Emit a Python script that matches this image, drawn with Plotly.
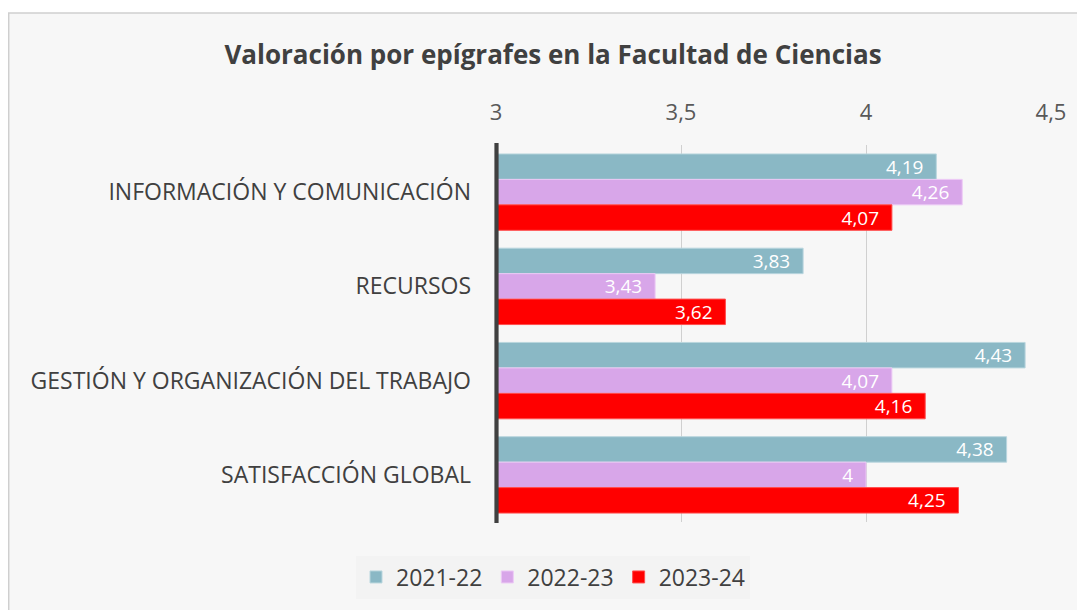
import plotly.graph_objects as go

categories = ["INFORMACIÓN Y COMUNICACIÓN", "RECURSOS",
              "GESTIÓN Y ORGANIZACIÓN DEL TRABAJO", "SATISFACCIÓN GLOBAL"]
series_names = ["2021-22", "2022-23", "2023-24"]
v2122 = [4.19, 3.83, 4.43, 4.38]
v2223 = [4.26, 3.43, 4.07, 4.00]
v2324 = [4.07, 3.62, 4.16, 4.25]
tick_vals = [3, 3.5, 4, 4.5]

colors = ["#8ab8c5", "#d8a6e9", "#ff0000"]
line_colors = ["#b9d6de", "#ecc9f5", "#ff4d4d"]

def fmt(v):
    return f"{v:g}".replace(".", ",") + "\u00a0\u00a0"

fig = go.Figure()
for name, vals, c, lc in zip(series_names, [v2122, v2223, v2324], colors, line_colors):
    fig.add_trace(go.Bar(
        y=categories, x=vals, name=name, orientation="h",
        marker=dict(color=c, line=dict(color=lc, width=1)),
        text=[fmt(v) for v in vals], textposition="inside",
        insidetextanchor="end", textangle=0,
        textfont=dict(color="white", size=19, family="Open Sans"),
        constraintext="none",
    ))

# page has an 8px body margin; work in page pixels and convert
OFF = 8
W, H = 1077, 602
L = 496 - OFF
T = 145 - OFF
R = W - (1051 - OFF)
B = H - (522 - OFF)
pw, ph = W - L - R, H - T - B
def px2x(px): return (px - OFF - L) / pw
def py2y(py): return (H - B - (py - OFF)) / ph

fig.update_layout(
    width=W, height=H,
    margin=dict(l=L, r=R, t=T, b=B),
    paper_bgcolor="white", plot_bgcolor="#f7f7f7",
    separators=",.",
    barmode="group", bargap=0.19, bargroupgap=0.0,
    font=dict(family="Open Sans", color="#595959"),
    title=dict(text="<b>Valoración por epígrafes en la Facultad de Ciencias</b>",
               x=(553 - OFF) / W, xanchor="center", xref="container",
               y=1 - (55 - OFF) / H, yanchor="middle",
               font=dict(size=26, color="#404040", family="Open Sans")),
    xaxis=dict(range=[3, 4.5], side="top", tickvals=tick_vals,
               showgrid=True, gridcolor="#d0d0d0", gridwidth=1,
               zeroline=False, showline=False, ticks="",
               ticklabelstandoff=20,
               tickfont=dict(size=22, color="#595959")),
    yaxis=dict(autorange="reversed", showgrid=False, ticks="",
               showline=False, ticklabelstandoff=24,
               tickfont=dict(size=23, color="#404040")),
    legend=dict(orientation="h", x=px2x(553), xanchor="center",
                y=py2y(577), yanchor="middle", bgcolor="#f3f3f3",
                font=dict(size=23, color="#404040"), traceorder="normal",
                itemwidth=30),
    shapes=[
        dict(type="rect", xref="paper", yref="paper",
             x0=px2x(8.7), x1=px2x(1100), y0=py2y(13), y1=py2y(640),
             fillcolor="#f7f7f7", line=dict(color="#cfcfcf", width=1.5), layer="below"),
        dict(type="line", xref="paper", yref="paper",
             x0=px2x(496.5), x1=px2x(496.5),
             y0=py2y(523), y1=py2y(143),
             line=dict(color="#404040", width=4.2), layer="above"),
    ],
)

fig.write_html("out.html")
